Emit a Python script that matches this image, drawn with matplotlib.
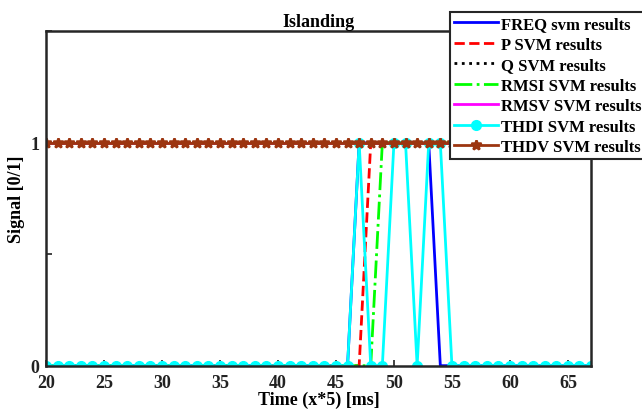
import numpy as np
import matplotlib
matplotlib.use('Agg')
import matplotlib.pyplot as plt

plt.rcParams['font.family'] = ['Liberation Serif', 'DejaVu Serif']
plt.rcParams['font.weight'] = 'bold'

# sample index (x*5 ms)
t = np.arange(20, 68)

# detection signals
freq = [0] * 27 + [1] * 7 + [0] * 14          # 20..46 -> 0, 47..53 -> 1, 54..67 -> 0
p_sig = [0] * 28 + [1] * 20                   # 1 from 48
q_sig = [1] * 48
rmsi = [0] * 29 + [1] * 19                    # 1 from 49
rmsv = [1] * 48
thdi = [0] * 27 + [1, 0, 0, 1, 1, 0, 1, 1] + [0] * 13
thdv = [1] * 48

labels = ['FREQ svm results', 'P SVM results', 'Q SVM results', 'RMSI SVM results',
          'RMSV SVM results', 'THDI SVM results', 'THDV SVM results']

fig = plt.figure(figsize=(6.42, 4.14), dpi=100)
ax = fig.add_axes([0.0717, 0.1143, 0.849, 0.8072])

ax.plot(t, freq, color='#0000ff', lw=2, label=labels[0])
ax.plot(t, p_sig, color='#ff0000', lw=2, ls='--', label=labels[1])
ax.plot(t, q_sig, color='black', lw=2, ls=':', label=labels[2])
ax.plot(t, rmsi, color='#00ff00', lw=2, ls='-.', label=labels[3])
ax.plot(t, rmsv, color='#ff00ff', lw=2, label=labels[4])
ax.plot(t, thdi, color='#00ffff', lw=2, marker='o', ms=7, label=labels[5])
ax.plot(t, thdv, color='#9c3510', lw=2, marker='*', ms=7, mew=1.8, label=labels[6])

ax.set_xlim(20, 67)
ax.set_ylim(0, 1.5)
ax.set_xticks(np.arange(20, 66, 5))
ax.set_yticks([0, 0.5, 1, 1.5])
ax.set_yticklabels(['0', '', '1', ''])
ax.tick_params(direction='in', length=4, width=1.2, labelsize=13, colors='#222222')
ax.tick_params(axis='x', pad=6)
ax.tick_params(axis='y', pad=5)
for s in ax.spines.values():
    s.set_linewidth(1.8)
    s.set_color('#262626')

ax.set_title('Islanding', fontsize=13, fontweight='bold', pad=4)
ax.set_xlabel('Time (x*5) [ms]', fontsize=13, fontweight='bold', labelpad=0)
ax.set_ylabel('Signal [0/1]', fontsize=13, fontweight='bold', labelpad=4)

leg = ax.legend(loc='upper left', bbox_to_anchor=(0.701, 0.969), bbox_transform=fig.transFigure,
                borderaxespad=0, fancybox=False, framealpha=1, fontsize=12,
                handlelength=2.6, handletextpad=0.2, labelspacing=0.27, borderpad=0.25)
leg.get_frame().set_edgecolor('#262626')
leg.get_frame().set_linewidth(1.5)

fig.savefig('out.png', dpi=100)
